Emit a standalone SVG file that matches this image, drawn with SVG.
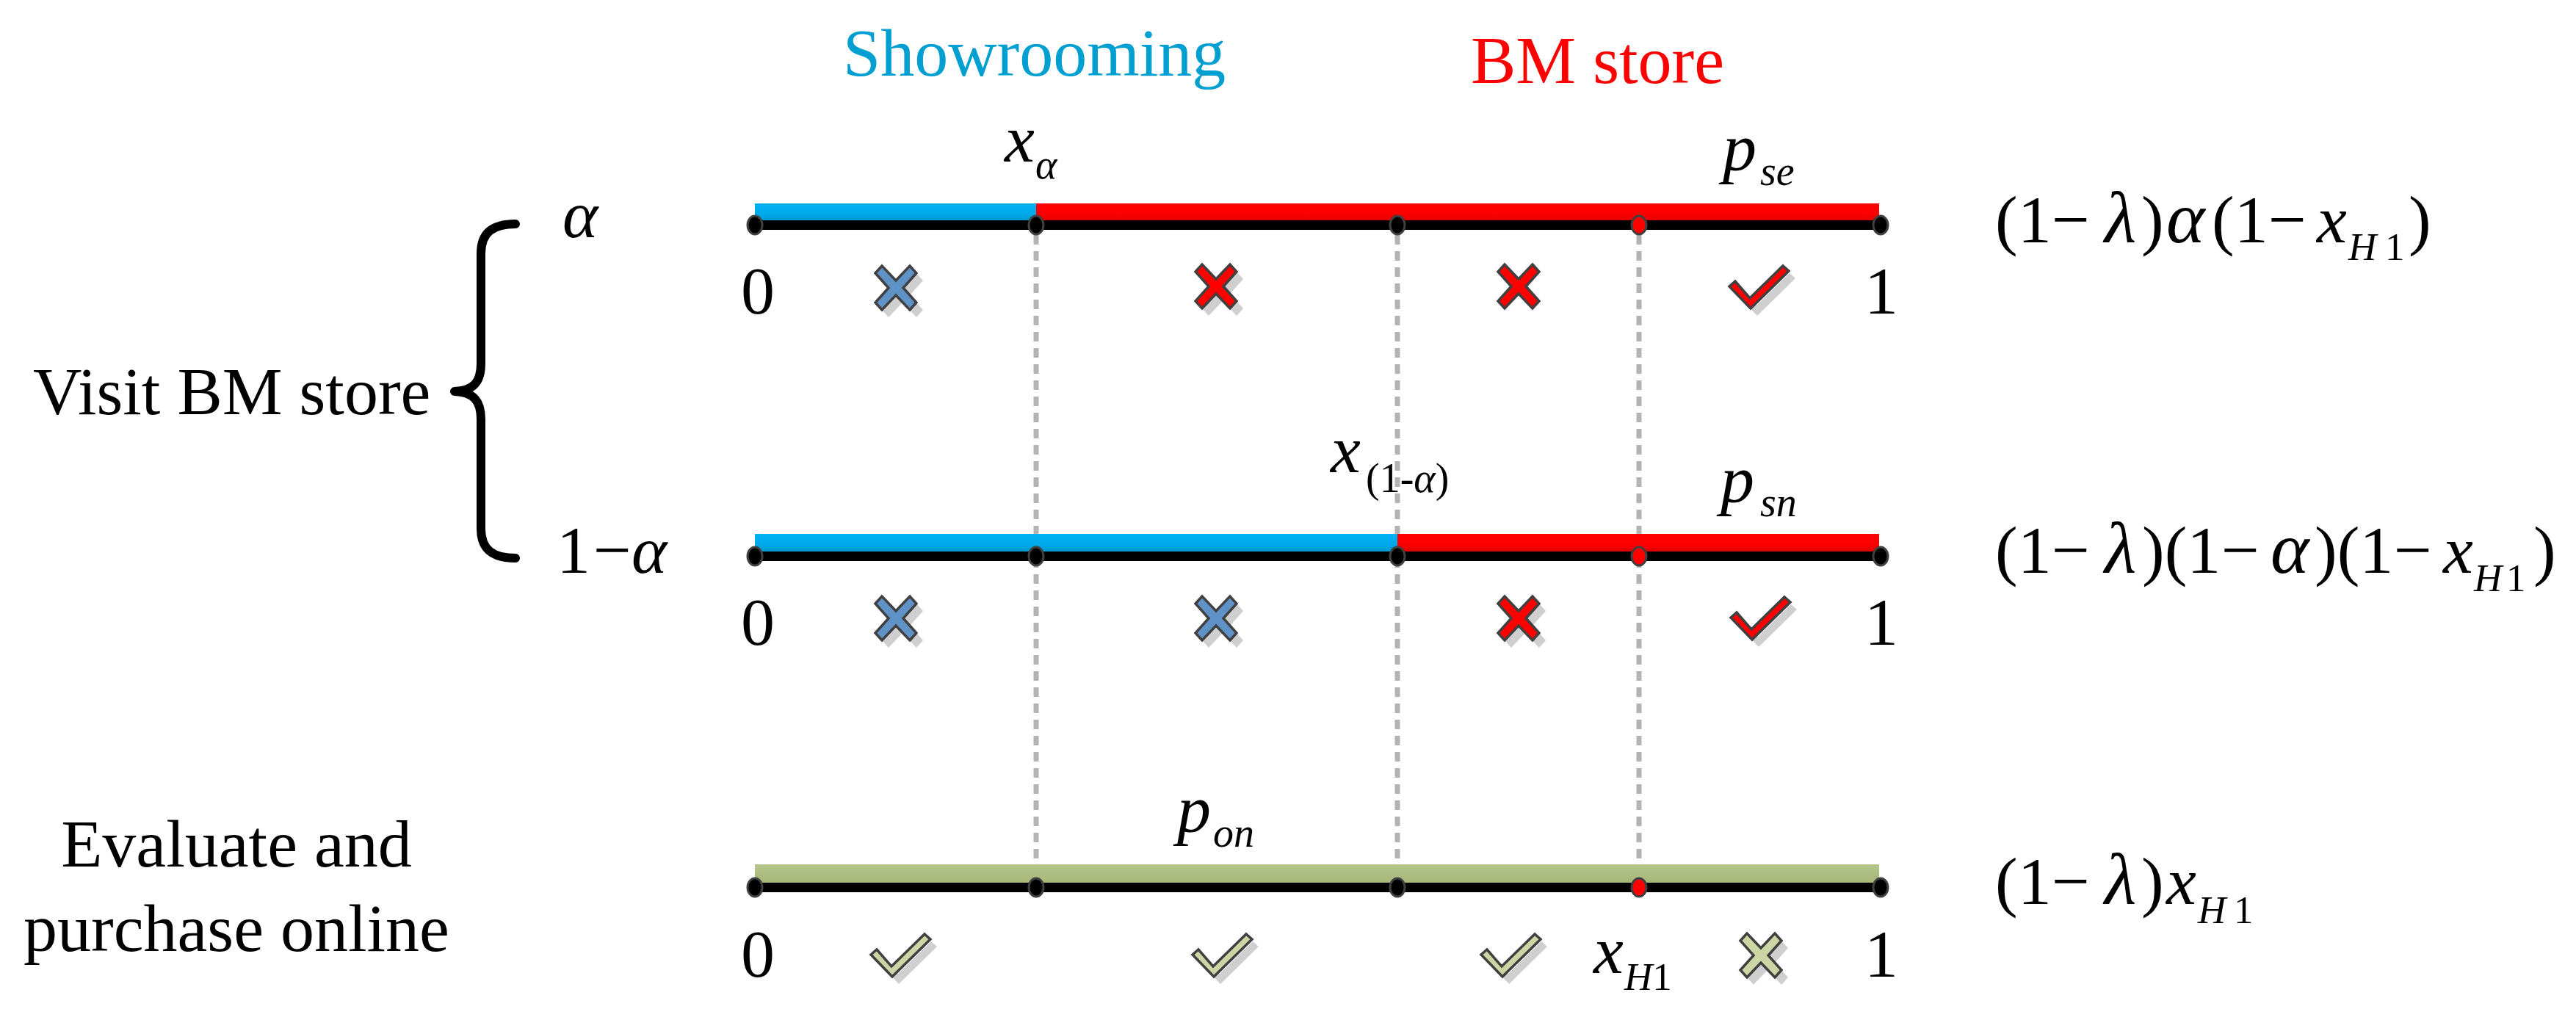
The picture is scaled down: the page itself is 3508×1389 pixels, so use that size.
<svg xmlns="http://www.w3.org/2000/svg" width="3508" height="1389" viewBox="0 0 3508 1389">
<style>
text{font-family:"Liberation Serif","Times New Roman",serif;fill:#000}
.t{font-size:92px}
.i{font-style:italic}
.g{font-size:100px;font-style:italic}
.s{font-size:56px}
.h{font-size:53px}
.dot{fill:#000;stroke:#404040;stroke-width:3}
.dotr{fill:#ff0000;stroke:#404040;stroke-width:3}
.ico{stroke:#404040;stroke-width:3.5;stroke-linejoin:miter}
.sh{fill:#cfcfcf}
.dash{stroke:#b3b3b3;stroke-width:7;stroke-dasharray:13 9;fill:none}
.blk{fill:#000}
</style>
<defs>
<linearGradient id="gb" x1="0" y1="0" x2="0" y2="1"><stop offset="0" stop-color="#00b2f2"/><stop offset="0.6" stop-color="#00aaea"/><stop offset="1" stop-color="#0098d0"/></linearGradient>
<linearGradient id="gr" x1="0" y1="0" x2="0" y2="1"><stop offset="0" stop-color="#ff0000"/><stop offset="0.6" stop-color="#fc0000"/><stop offset="1" stop-color="#e00000"/></linearGradient>
<linearGradient id="gg" x1="0" y1="0" x2="0" y2="1"><stop offset="0" stop-color="#b5c58c"/><stop offset="1" stop-color="#a6b777"/></linearGradient>
<path id="xm" d="M-28,-20 L-19,-30 L0,-10 L19,-30 L28,-20 L10,0 L28,20 L19,30 L0,10 L-19,30 L-28,20 L-10,0 Z"/>
<path id="ck" d="M-41,-1 L-12,29 L40,-22 L32,-29 L-13,15 L-33,-8 Z"/>
</defs>

<g id="connectors">
<line class="dash" x1="1411" y1="320" x2="1411" y2="1200"/>
<line class="dash" x1="1903" y1="320" x2="1903" y2="1200"/>
<line class="dash" x1="2232" y1="320" x2="2232" y2="1200"/>
</g>

<g id="header">
<text class="t" x="1148" y="103" style="fill:#009fd2">Showrooming</text>
<text class="t" x="2003" y="113" style="fill:#ff0000">BM store</text>
</g>

<g id="visit-label">
<text class="t" x="45" y="564">Visit BM store</text>
<path d="M702,305 C672,305 655,316 655,345 L655,495 C655,520 645,532 619,533 C645,534 655,546 655,571 L655,720 C655,749 672,760 702,760" fill="none" stroke="#000" stroke-width="12" stroke-linecap="round" stroke-linejoin="round"/>
<text class="t i" x="766" y="323">α</text>
<text class="t" y="780"><tspan x="758">1</tspan><tspan x="808">−</tspan><tspan x="860" class="i">α</tspan></text>
</g>

<g id="online-label">
<text class="t" x="322" y="1180" text-anchor="middle">Evaluate and</text>
<text class="t" x="322" y="1295" text-anchor="middle">purchase online</text>
</g>

<g id="row1">
<rect x="1028" y="277" width="383" height="24" fill="url(#gb)"/>
<rect x="1411" y="277" width="1148" height="24" fill="url(#gr)"/>
<rect class="blk" x="1028" y="300" width="1533" height="13"/>
<ellipse class="dot" cx="1028" cy="306.5" rx="10" ry="12.5"/>
<ellipse class="dot" cx="1411" cy="306.5" rx="10" ry="12.5"/>
<ellipse class="dot" cx="1903" cy="306.5" rx="10" ry="12.5"/>
<ellipse class="dotr" cx="2232" cy="306.5" rx="10" ry="12.5"/>
<ellipse class="dot" cx="2561" cy="306.5" rx="10" ry="12.5"/>
<text class="t i" x="1368" y="220">x</text><text class="s i" x="1410" y="243">α</text>
<text class="t i" x="2346" y="232">p</text><text class="s i" x="2397" y="252">se</text>
<text class="t" x="1009" y="427">0</text>
<text class="t" x="2539" y="427">1</text>
<use href="#xm" class="sh" x="1229" y="402"/><use href="#xm" class="ico" x="1220" y="392" fill="#5f93c8"/>
<use href="#xm" class="sh" x="1665" y="400"/><use href="#xm" class="ico" x="1656" y="390" fill="#ff0000"/>
<use href="#xm" class="ico" x="2068" y="390" fill="#ff0000"/>
<use href="#ck" class="sh" x="2405" y="401"/><use href="#ck" class="ico" x="2396" y="391" fill="#ff0000"/>
<text class="t" y="330"><tspan x="2717">(1</tspan><tspan x="2794">−</tspan><tspan x="2866" class="g">λ</tspan><tspan x="2916">)</tspan><tspan x="2950" class="g">α</tspan><tspan x="3012">(1</tspan><tspan x="3089">−</tspan><tspan x="3155" class="i">x</tspan><tspan x="3198" y="354" class="h i">H</tspan><tspan x="3248" y="354" class="h">1</tspan><tspan x="3280" y="330">)</tspan></text>
</g>

<g id="row2">
<rect x="1028" y="727" width="875" height="24" fill="url(#gb)"/>
<rect x="1903" y="727" width="656" height="24" fill="url(#gr)"/>
<rect class="blk" x="1028" y="751" width="1533" height="13"/>
<ellipse class="dot" cx="1028" cy="757.5" rx="10" ry="12.5"/>
<ellipse class="dot" cx="1411" cy="757.5" rx="10" ry="12.5"/>
<ellipse class="dot" cx="1903" cy="757.5" rx="10" ry="12.5"/>
<ellipse class="dotr" cx="2232" cy="757.5" rx="10" ry="12.5"/>
<ellipse class="dot" cx="2561" cy="757.5" rx="10" ry="12.5"/>
<text class="t i" x="1812" y="643">x</text><text class="s" x="1860" y="670">(1-<tspan class="i">α</tspan>)</text>
<text class="t i" x="2343" y="684">p</text><text class="s i" x="2397" y="703">sn</text>
<text class="t" x="1009" y="878">0</text>
<text class="t" x="2539" y="878">1</text>
<use href="#xm" class="sh" x="1229" y="852"/><use href="#xm" class="ico" x="1220" y="842" fill="#5f93c8"/>
<use href="#xm" class="sh" x="1665" y="852"/><use href="#xm" class="ico" x="1656" y="842" fill="#5f93c8"/>
<use href="#xm" class="sh" x="2077" y="852"/><use href="#xm" class="ico" x="2068" y="842" fill="#ff0000"/>
<use href="#ck" class="sh" x="2407" y="852"/><use href="#ck" class="ico" x="2398" y="842" fill="#ff0000"/>
<text class="t" y="780"><tspan x="2717">(1</tspan><tspan x="2794">−</tspan><tspan x="2866" class="g">λ</tspan><tspan x="2917">)(1</tspan><tspan x="3025">−</tspan><tspan x="3092" class="g">α</tspan><tspan x="3152">)(1</tspan><tspan x="3260">−</tspan><tspan x="3327" class="i">x</tspan><tspan x="3369" y="805" class="h i">H</tspan><tspan x="3413" y="805" class="h">1</tspan><tspan x="3450" y="780">)</tspan></text>
</g>

<g id="row3">
<rect x="1028" y="1177" width="1531" height="25" fill="url(#gg)"/>
<rect class="blk" x="1028" y="1202" width="1533" height="13"/>
<ellipse class="dot" cx="1028" cy="1208.5" rx="10" ry="12.5"/>
<ellipse class="dot" cx="1411" cy="1208.5" rx="10" ry="12.5"/>
<ellipse class="dot" cx="1903" cy="1208.5" rx="10" ry="12.5"/>
<ellipse class="dotr" cx="2232" cy="1208.5" rx="10" ry="12.5"/>
<ellipse class="dot" cx="2561" cy="1208.5" rx="10" ry="12.5"/>
<text class="t i" x="1603" y="1133">p</text><text class="s i" x="1652" y="1153">on</text>
<text class="t i" x="2170" y="1325">x</text><text class="h i" x="2212" y="1348">H<tspan class="h" style="font-style:normal">1</tspan></text>
<text class="t" x="1009" y="1330">0</text>
<text class="t" x="2539" y="1330">1</text>
<use href="#ck" class="sh" x="1236" y="1311"/><use href="#ck" class="ico" x="1227" y="1301" fill="#ccd5a4"/>
<use href="#ck" class="sh" x="1674" y="1311"/><use href="#ck" class="ico" x="1665" y="1301" fill="#ccd5a4"/>
<use href="#ck" class="sh" x="2067" y="1311"/><use href="#ck" class="ico" x="2058" y="1301" fill="#ccd5a4"/>
<use href="#xm" class="sh" x="2407" y="1311"/><use href="#xm" class="ico" x="2398" y="1301" fill="#ccd5a4"/>
<text class="t" y="1231"><tspan x="2717">(1</tspan><tspan x="2794">−</tspan><tspan x="2866" class="g">λ</tspan><tspan x="2916">)</tspan><tspan x="2950" class="i">x</tspan><tspan x="2993" y="1257" class="h i">H</tspan><tspan x="3042" y="1257" class="h">1</tspan></text>
</g>
</svg>
